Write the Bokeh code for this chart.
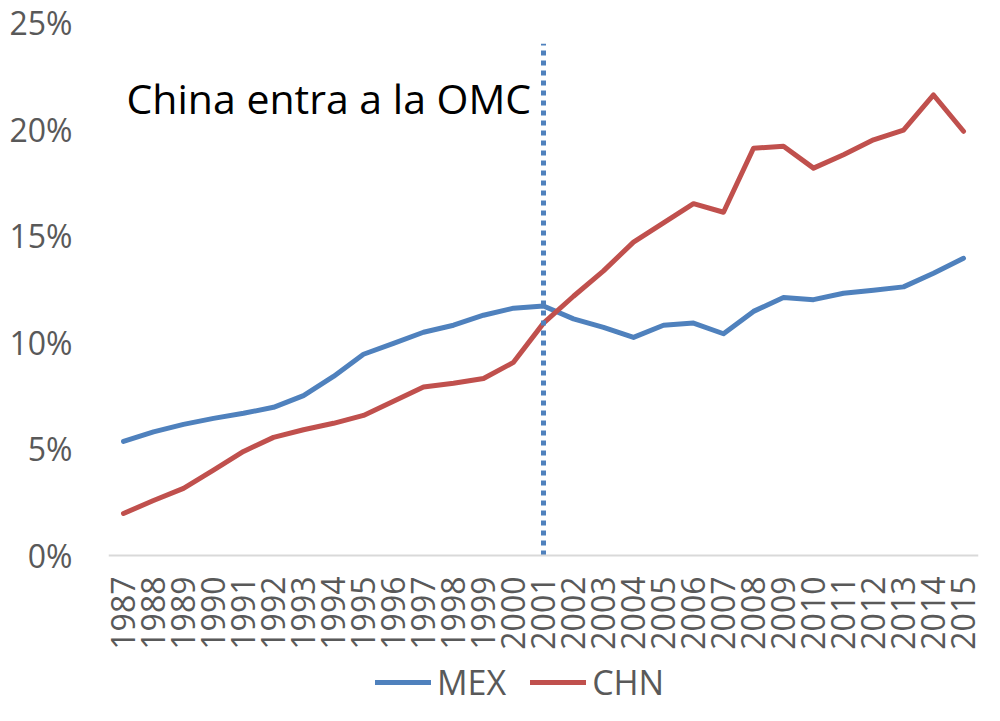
import math
from bokeh.plotting import figure
from bokeh.models import (FactorRange, Range1d, FixedTicker, PrintfTickFormatter,
                          Legend, LegendItem, Label)
from bokeh.embed import file_html
from bokeh.resources import INLINE

years = [str(y) for y in range(1987, 2016)]
mex = [5.35, 5.8, 6.15, 6.43, 6.67, 6.95, 7.5, 8.4, 9.44, 9.95, 10.47, 10.8, 11.27, 11.6, 11.7,
       11.1, 10.7, 10.23, 10.8, 10.9, 10.4, 11.45, 12.1, 12.0, 12.3, 12.44, 12.6, 13.24, 13.94]
chn = [1.97, 2.58, 3.15, 4.0, 4.88, 5.54, 5.9, 6.2, 6.57, 7.23, 7.9, 8.08, 8.3, 9.06, 10.9,
       12.16, 13.35, 14.7, 15.6, 16.5, 16.1, 19.1, 19.2, 18.17, 18.8, 19.5, 19.95, 21.6, 19.9]
y_ticks = [0, 5, 10, 15, 20, 25]
wto_year = ["2001"]
wto_y0 = [0]
wto_y1 = [24]
annotation = "China entra a la OMC"
series_names = ["MEX", "CHN"]

FONT = "Open Sans"
GREY = "#595959"
BLUE = "#4f81bd"
RED = "#c0504d"

# frame runs to the bottom of the figure; the x axis is pinned at y = 0
p = figure(width=984, height=705, x_range=FactorRange(*years, range_padding=0),
           y_range=Range1d(-7.036, 25), output_backend="svg", toolbar_location=None,
           min_border_left=108, min_border_right=6, min_border_top=22, min_border_bottom=0)
p.outline_line_color = None
p.xgrid.grid_line_color = None
p.ygrid.grid_line_color = None
p.background_fill_color = "white"
p.border_fill_color = "white"

r_mex = p.line(years, mex, line_color=BLUE, line_width=5, line_join="round", line_cap="round")
r_chn = p.line(years, chn, line_color=RED, line_width=5, line_join="round", line_cap="round")
p.segment(x0=wto_year, y0=wto_y0, x1=wto_year, y1=wto_y1, line_color=BLUE,
          line_width=5, line_dash="5 5")

p.yaxis.ticker = FixedTicker(ticks=y_ticks)
p.yaxis.formatter = PrintfTickFormatter(format="%d%%")
p.yaxis.axis_line_color = None
p.yaxis.major_tick_line_color = None
p.yaxis.minor_tick_line_color = None
p.yaxis.major_tick_out = 0
p.yaxis.major_tick_in = 0
p.yaxis.major_label_standoff = 36
p.yaxis.major_label_text_font = FONT
p.yaxis.major_label_text_font_size = "32px"
p.yaxis.major_label_text_color = GREY

p.xaxis.fixed_location = 0
p.xaxis.axis_line_color = "#d9d9d9"
p.xaxis.axis_line_width = 2
p.xaxis.major_tick_line_color = None
p.xaxis.minor_tick_line_color = None
p.xaxis.major_tick_out = 0
p.xaxis.major_tick_in = 0
p.xaxis.major_label_orientation = math.pi / 2
p.xaxis.major_label_standoff = 21
p.xaxis.major_label_text_font = FONT
p.xaxis.major_label_text_font_size = "32px"
p.xaxis.major_label_text_color = GREY

p.add_layout(Label(x=18, y=608, x_units="screen", y_units="screen", text=annotation,
                   text_font=FONT, text_font_size="41px", text_color="black",
                   text_baseline="alphabetic"))

legend = Legend(items=[LegendItem(label=series_names[0], renderers=[r_mex]),
                       LegendItem(label=series_names[1], renderers=[r_chn])],
                orientation="horizontal", location=(267, 0),
                glyph_width=56, glyph_height=20, label_height=20, label_standoff=6,
                spacing=24, padding=0, margin=0,
                label_text_font=FONT, label_text_font_size="34px", label_text_color=GREY,
                background_fill_alpha=0, border_line_alpha=0)
p.add_layout(legend, "center")

open("out.html", "w").write(file_html(p, INLINE))
